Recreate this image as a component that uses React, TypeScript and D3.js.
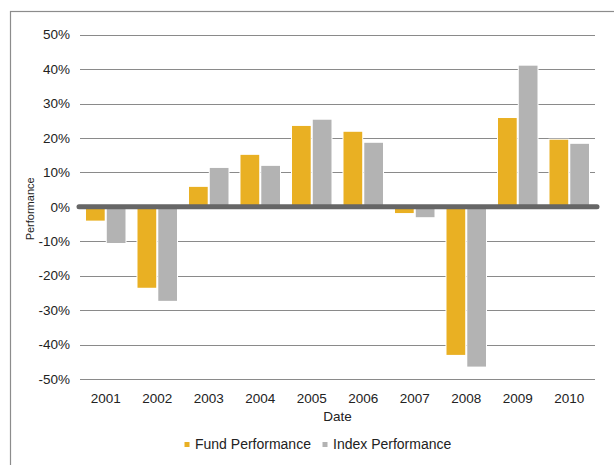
import {useEffect, useRef} from "react";
import * as d3 from "d3";

const years = ["2001", "2002", "2003", "2004", "2005", "2006", "2007", "2008", "2009", "2010"];
const fundPerf = [-4.0, -23.5, 5.8, 15.1, 23.5, 21.8, -1.8, -43.0, 25.8, 19.5];
const indexPerf = [-10.5, -27.3, 11.3, 11.9, 25.3, 18.6, -3.0, -46.4, 41.0, 18.3];
const yTicks = [-50, -40, -30, -20, -10, 0, 10, 20, 30, 40, 50];
const seriesNames = ["Fund Performance", "Index Performance"];
const seriesColors = ["#E9B023", "#B3B3B3"];

function App() {

    const ref = useRef<SVGSVGElement>(null);

    useEffect(() => {
        const width = 614, height = 465;
        const plot = {left: 80, right: 595, top: 34.7, bottom: 379};
        const font = "'Liberation Sans', Arial, sans-serif";

        const svg = d3.select(ref.current)
            .attr("width", width)
            .attr("height", height);
        svg.selectAll("*").remove();

        // outer frame
        svg.append("rect")
            .attr("x", 10.5).attr("y", 11.5)
            .attr("width", 640).attr("height", 480)
            .attr("fill", "none")
            .attr("stroke", "#8c8c8c")
            .attr("stroke-width", 1.2);

        const x = d3.scaleBand()
            .domain(years)
            .range([plot.left, plot.right]);

        const x1 = d3.scaleBand()
            .domain(seriesNames)
            .range([6, x.bandwidth() - 6])
            .paddingInner(0.1);

        const y = d3.scaleLinear()
            .domain([-50, 50])
            .range([plot.bottom, plot.top]);

        // gridlines
        svg.append("g")
            .selectAll("line")
            .data(yTicks.filter(d => d !== 0))
            .enter()
            .append("line")
            .attr("x1", plot.left).attr("x2", plot.right)
            .attr("y1", d => Math.round(y(d)) + 0.5)
            .attr("y2", d => Math.round(y(d)) + 0.5)
            .attr("stroke", "#8a8a8a")
            .attr("stroke-width", 1);

        // y tick labels
        svg.append("g")
            .selectAll("text")
            .data(yTicks)
            .enter()
            .append("text")
            .attr("x", 70)
            .attr("y", d => y(d))
            .attr("dy", "0.35em")
            .attr("text-anchor", "end")
            .style("font-family", font)
            .style("font-size", "13.5px")
            .attr("fill", "#222")
            .text(d => d + "%");

        // bars
        const data = years.map((yr, i) => ({year: yr, values: [fundPerf[i], indexPerf[i]]}));
        svg.append("g")
            .selectAll("g")
            .data(data)
            .enter()
            .append("g")
            .attr("transform", d => `translate(${x(d.year)},0)`)
            .selectAll("rect")
            .data(d => d.values.map((v, j) => ({name: seriesNames[j], value: v, color: seriesColors[j]})))
            .enter()
            .append("rect")
            .attr("x", d => x1(d.name)!)
            .attr("width", x1.bandwidth())
            .attr("y", d => y(Math.max(0, d.value)))
            .attr("height", d => Math.abs(y(d.value) - y(0)))
            .attr("fill", d => d.color)
            .attr("stroke", "white")
            .attr("stroke-width", 2)
            .style("paint-order", "stroke");

        // zero line
        svg.append("line")
            .attr("x1", plot.left - 1).attr("x2", plot.right + 2)
            .attr("y1", y(0)).attr("y2", y(0))
            .attr("stroke", "#666")
            .attr("stroke-width", 5)
            .attr("stroke-linecap", "round");

        // x tick labels
        svg.append("g")
            .selectAll("text")
            .data(years)
            .enter()
            .append("text")
            .attr("x", d => x(d)! + x.bandwidth() / 2)
            .attr("y", 398.5)
            .attr("dy", "0.35em")
            .attr("text-anchor", "middle")
            .style("font-family", font)
            .style("font-size", "13.5px")
            .attr("fill", "#222")
            .text(d => d);

        // axis titles
        svg.append("text")
            .attr("x", (plot.left + plot.right) / 2)
            .attr("y", 416)
            .attr("dy", "0.35em")
            .attr("text-anchor", "middle")
            .style("font-family", font)
            .style("font-size", "13.5px")
            .attr("fill", "#222")
            .text("Date");

        svg.append("text")
            .attr("transform", `translate(34,${y(0) + 2}) rotate(-90)`)
            .attr("text-anchor", "middle")
            .style("font-family", font)
            .style("font-size", "11px")
            .attr("fill", "#222")
            .text("Performance");

        // legend
        const legendX = [184.5, 322.5];
        const legend = svg.append("g")
            .selectAll("g")
            .data(seriesNames)
            .enter()
            .append("g")
            .attr("transform", (d, i) => `translate(${legendX[i]},444.5)`);
        legend.append("rect")
            .attr("x", 0).attr("y", -2.5)
            .attr("width", 5).attr("height", 5)
            .attr("fill", (d, i) => seriesColors[i]);
        legend.append("text")
            .attr("x", 10.5)
            .attr("dy", "0.35em")
            .style("font-family", font)
            .style("font-size", "14px")
            .attr("fill", "#222")
            .text(d => d);

    }, []);

    return <svg ref={ref} style={{position: "absolute", left: 0, top: 0}}></svg>
}

export default App;
